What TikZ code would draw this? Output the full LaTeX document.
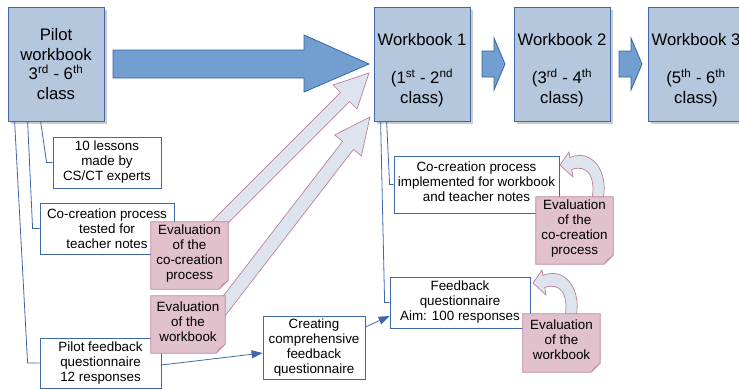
\documentclass[tikz,border=0pt]{standalone}
\usepackage{fontspec}
\setmainfont{Liberation Sans}
\usetikzlibrary{shadows,arrows.meta,calc}
\definecolor{boxfill}{RGB}{180,199,221}
\definecolor{boxline}{RGB}{62,104,170}
\definecolor{arrowfill}{RGB}{114,159,207}
\definecolor{arrowline}{RGB}{52,101,164}
\definecolor{notefill}{RGB}{224,193,204}
\definecolor{noteline}{RGB}{190,128,158}
\definecolor{notefold}{RGB}{198,150,170}
\definecolor{paleblue}{RGB}{221,228,237}
\definecolor{shadowgray}{RGB}{204,204,204}
\newcommand\sups[1]{\smash{\textsuperscript{#1}}}
\newcommand\noteoutline[1]{%
  \fill[white] ([xshift=-9pt]#1.south east) -- (#1.south east) -- ([yshift=9pt]#1.south east) -- cycle;
  \fill[notefold] ([xshift=-9pt]#1.south east) -- ([yshift=9pt]#1.south east) -- ([xshift=-6pt,yshift=5pt]#1.south east) -- cycle;
  \draw[noteline,line width=0.8pt] (#1.north west) -- (#1.north east) -- ([yshift=9pt]#1.south east) -- ([xshift=-9pt]#1.south east) -- (#1.south west) -- cycle;}
\newcommand\curvedarrowpath{(560,165) -- (569,152) -- (569.9,157.5) .. controls (592,148) and (609,172) .. (603,199) -- (592,199) .. controls (596,176) and (587,164) .. (571.8,169.5) -- (573,177) -- cycle}
\tikzset{
  bigfont/.style={font=\fontsize{16.7}{19.5}\selectfont},
  smallfont/.style={font=\fontsize{13.4}{15}\selectfont},
  wbbox/.style={draw=boxline, fill=boxfill, line width=0.8pt, minimum width=96pt, minimum height=114pt,
    align=center, bigfont, inner sep=0pt,
    drop shadow={shadow xshift=3pt, shadow yshift=-3pt, fill=shadowgray, opacity=1}},
  wbtext/.style={align=center, bigfont, inner sep=0pt},
  whitebox/.style={draw=boxline, fill=white, line width=0.8pt, align=center, smallfont, inner sep=0pt},
  notebox/.style={fill=notefill, draw=none, align=center, smallfont, inner sep=0pt},
  conn/.style={draw=boxline, line width=0.8pt},
  connarrow/.style={conn, -{Triangle[length=11pt,width=8pt]}},
  blockarrow/.style={fill=arrowfill, draw=arrowline, line width=0.8pt},
  palearrow/.style={fill=paleblue, draw=noteline, line width=0.7pt},
}
\begin{document}
\begin{tikzpicture}[x=1pt,y=-1pt]
\useasboundingbox (0,0) rectangle (739,389);
\clip (0,0) rectangle (739,389);
% workbook boxes
\node[wbbox] (pilot) at (56,64) {Pilot\\workbook\\3\sups{rd} - 6\sups{th}\\class};
\node[wbbox] (wb1) at (422,64) {};
\node[wbbox] (wb2) at (562,64) {};
\node[wbbox] (wb3) at (696,64) {};
\node[wbtext] (wb1t) at (422,70) {Workbook 1\\[18.7pt](1\sups{st} - 2\sups{nd}\\class)};
\node[wbtext] (wb2t) at (562,70) {Workbook 2\\[18.7pt](3\sups{rd} - 4\sups{th}\\class)};
\node[wbtext] (wb3t) at (696,70) {Workbook 3\\[18.7pt](5\sups{th} - 6\sups{th}\\class)};
% block arrows
\draw[blockarrow] (113,50) -- (304,50) -- (304,35) -- (369,64) -- (304,92) -- (304,78) -- (113,78) -- cycle;
\draw[blockarrow] (482,51) -- (494,51) -- (494,38) -- (505,64) -- (494,90) -- (494,77) -- (482,77) -- cycle;
\draw[blockarrow] (619,51) -- (631,51) -- (631,38) -- (642,64) -- (631,90) -- (631,77) -- (619,77) -- cycle;
% white boxes
\node[whitebox, minimum width=108pt, minimum height=51pt] (lessons) at (107,162.5) {10 lessons\\made by\\CS/CT experts};
\node[whitebox, minimum width=134pt, minimum height=51pt] (cotest) at (107,228.5) {Co-creation process\\tested for\\teacher notes};
\node[whitebox, minimum width=121pt, minimum height=50pt] (pilotfb) at (100.5,363) {Pilot feedback\\questionnaire\\12 responses};
\node[whitebox, minimum width=102pt, minimum height=63pt] (creating) at (314,347.5) {Creating\\comprehensive\\feedback\\questionnaire};
\node[whitebox, minimum width=165pt, minimum height=57pt] (coimpl) at (476.5,184.5) {Co-creation process\\implemented for workbook\\and teacher notes\\[-10pt]};
\node[whitebox, minimum width=140pt, minimum height=51pt] (fbq) at (460,302.5) {Feedback\\questionnaire\\Aim: 100 responses};
% connectors
\draw[conn] ([xshift=33pt]pilot.south west) -- ([xshift=-6pt]lessons.west) -- (lessons.west);
\draw[conn] ([xshift=20pt]pilot.south west) -- ([xshift=-7pt]cotest.west) -- (cotest.west);
\draw[conn] ([xshift=7pt]pilot.south west) -- ([xshift=-12pt]pilotfb.west) -- (pilotfb.west);
\draw[conn] ([xshift=13pt]wb1.south west) -- ([xshift=-4pt]coimpl.west) -- (coimpl.west);
\draw[conn] ([xshift=7pt]wb1.south west) -- ([xshift=-5pt]fbq.west) -- (fbq.west);
\draw[connarrow] ([yshift=-2pt]pilotfb.east) -- ([yshift=-5.5pt]creating.west);
\draw[connarrow] ([yshift=20.5pt]creating.east) -- ([yshift=-13.5pt]fbq.west);
% pale diagonal arrows
\draw[palearrow] (198,235) -- (340.5,92.5) -- (333,85) -- (369,73) -- (357,109) -- (349.5,101.5) -- (216,235) -- cycle;
\draw[palearrow] (207.9,315.9) -- (342.6,141.3) -- (334.6,135) -- (370,117) -- (361.4,155.8) -- (353.4,149.5) -- (218.7,324.1) -- cycle;
% curved arrows
\draw[palearrow] \curvedarrowpath;
\begin{scope}[shift={(-27,118)}]
\draw[palearrow] \curvedarrowpath;
\end{scope}
% notes
\node[notebox, minimum width=77pt, minimum height=67pt] (note1) at (189.5,255.5) {Evaluation\\of the\\co-creation\\process\\[-9pt]};
\noteoutline{note1}
\node[notebox, minimum width=74pt, minimum height=57pt] (note2) at (188,324.5) {Evaluation\\of the\\workbook\\[-9pt]};
\noteoutline{note2}
\node[notebox, minimum width=77pt, minimum height=67pt] (note3) at (574.5,230.5) {Evaluation\\of the\\co-creation\\process\\[-9pt]};
\noteoutline{note3}
\node[notebox, minimum width=77pt, minimum height=58pt] (note4) at (561.5,343) {Evaluation\\of the\\workbook\\[-9pt]};
\noteoutline{note4}
\end{tikzpicture}
\end{document}
